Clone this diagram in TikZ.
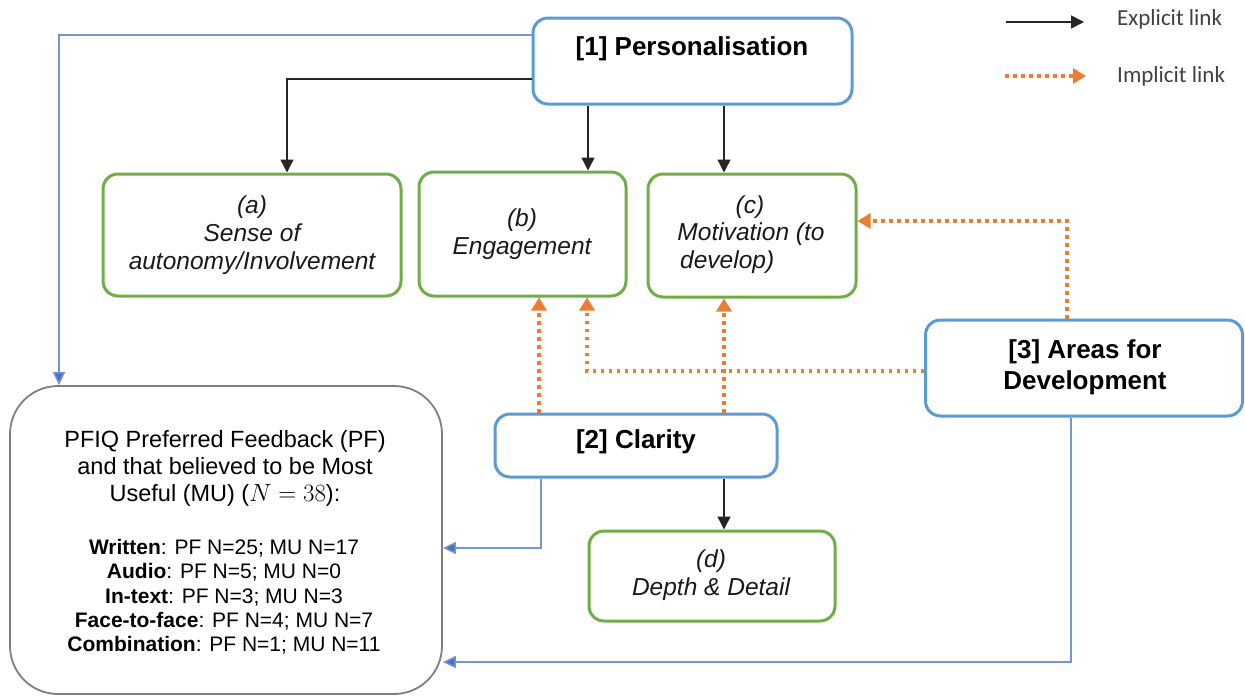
\documentclass[tikz,border=0pt]{standalone}
\usepackage{fontspec}
\setmainfont{Liberation Sans}
\newfontfamily\legendfont{Carlito}
\usetikzlibrary{arrows.meta}
\definecolor{boxblue}{HTML}{5B9BD5}
\definecolor{lineblue}{HTML}{4472C4}
\definecolor{boxgreen}{HTML}{70AD47}
\definecolor{implorange}{HTML}{ED7D31}
\definecolor{boxgray}{HTML}{7F7F7F}
\definecolor{legendgray}{HTML}{404040}
\tikzset{
  bluebox/.style={draw=boxblue, line width=3pt, rounded corners=15pt, fill=white},
  greenbox/.style={draw=boxgreen, line width=3pt, rounded corners=15pt, fill=white},
  graybox/.style={draw=boxgray, line width=1.8pt, rounded corners=48pt, fill=white},
  explicit/.style={draw=black!85, line width=1.4pt, -{Triangle[length=13pt,width=13pt]}},
  implicit/.style={draw=implorange, line width=3.5pt, dash pattern=on 3.5pt off 4.5pt, -{Triangle[length=13pt,width=15pt]}},
  blueline/.style={draw=lineblue!75, line width=1.5pt, -{Triangle[length=13pt,width=12pt,fill=lineblue]}},
  headtxt/.style={font=\fontsize{26}{31}\selectfont\bfseries, align=center, inner sep=0pt},
  ittxt/.style={font=\fontsize{24.5}{28}\selectfont\itshape, align=center, inner sep=0pt, text=black!90},
  legtxt/.style={font=\legendfont\fontsize{23}{27}\selectfont, text=legendgray, anchor=west, inner sep=0pt},
}
\begin{document}
\begin{tikzpicture}[x=1pt,y=-1pt]
\useasboundingbox (0,0) rectangle (1245,696);

% boxes
\node[bluebox, minimum width=319pt, minimum height=86pt] (p1) at (692.5,61) {};
\node[greenbox, minimum width=298pt, minimum height=122pt] (na) at (252,235) {};
\node[greenbox, minimum width=207pt, minimum height=124pt] (nb) at (522.5,234) {};
\node[greenbox, minimum width=208pt, minimum height=123pt] (nc) at (752,235.5) {};
\node[bluebox, minimum width=317pt, minimum height=96pt] (p3) at (1084,368) {};
\node[bluebox, minimum width=282pt, minimum height=63pt] (p2) at (636,445.5) {};
\node[greenbox, minimum width=246pt, minimum height=90pt] (nd) at (712,576) {};
\node[graybox, minimum width=432pt, minimum height=308pt] (pf) at (226,540) {};

% texts
\node[headtxt] (t1) at (692,49) {[1] Personalisation};
\node[headtxt] (t2) at (636,442) {[2] Clarity};
\node[headtxt] (t3) at (1085,367) {[3] Areas for\\Development};
\node[ittxt] (ta) at (252,235) {(a)\\Sense of\\autonomy/Involvement};
\node[ittxt] (tb) at (522,234) {(b)\\Engagement};
\node[ittxt] (tc1) at (750,207) {(c)};
\node[ittxt] (tc2) at (751,234) {Motivation (to};
\node[ittxt, anchor=west] (tc3) at (680,262) {develop)};
\node[ittxt] (td) at (711,575) {(d)\\Depth \& Detail};
\node[font=\fontsize{23.5}{27}\selectfont, align=center, inner sep=0pt] (pft) at (225,468)
  {PFIQ Preferred Feedback (PF)\\and that believed to be Most\\Useful (MU) ($N = 38$):};
\node[font=\fontsize{21}{24.3}\selectfont, align=center, inner sep=0pt] (pfl) at (224,597)
  {\textbf{Written}: PF N=25; MU N=17\\
   \textbf{Audio}: PF N=5; MU N=0\\
   \textbf{In-text}: PF N=3; MU N=3\\
   \textbf{Face-to-face}: PF N=4; MU N=7\\
   \textbf{Combination}: PF N=1; MU N=11};

% explicit links
\draw[explicit] (p1.west |- 0,79) -| (287,0 |- na.north);
\draw[explicit] (588,0 |- p1.south) -- (588,0 |- nb.north);
\draw[explicit] (724,0 |- p1.south) -- (724,0 |- nc.north);
\draw[explicit] (724,0 |- p2.south) -- (724,0 |- nd.north);

% implicit links
\draw[implicit] (539,0 |- p2.north) -- (539,0 |- nb.south);
\draw[implicit] (p3.west |- 0,371) -| (587,0 |- nb.south);
\draw[implicit] (724,0 |- p2.north) -- (724,0 |- nc.south);
\draw[implicit] (1067,0 |- p3.north) |- (nc.east |- 0,221);

% blue links to PFIQ
\draw[blueline] (p1.west |- 0,35) -| (59,0 |- pf.north);
\draw[blueline] (541,0 |- p2.south) |- (pf.east |- 0,548);
\draw[blueline] (1071,0 |- p3.south) |- (pf.east |- 0,662);

% legend
\coordinate (l1a) at (1006,22);
\coordinate (l1b) at (1084,22);
\coordinate (l2a) at (1005,76);
\coordinate (l2b) at (1086,76);
\draw[explicit] (l1a) -- (l1b);
\draw[implicit] (l2a) -- (l2b);
\node[legtxt] (lt1) at (1117,19) {Explicit link};
\node[legtxt] (lt2) at (1117,76) {Implicit link};
\end{tikzpicture}
\end{document}
